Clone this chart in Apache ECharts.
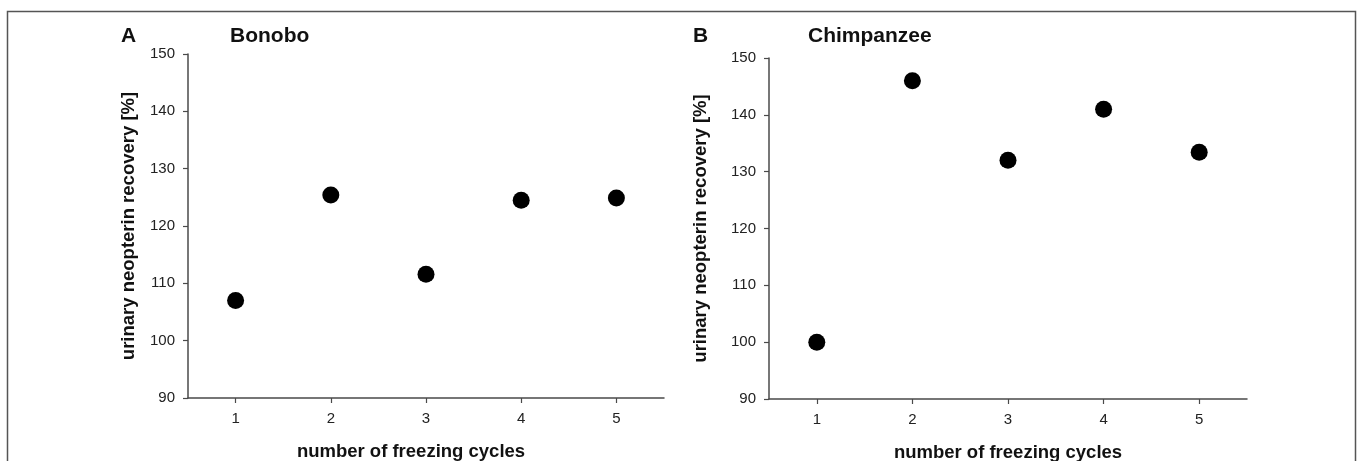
<!DOCTYPE html>
<html>
<head>
<meta charset="utf-8">
<script src="https://cdn.jsdelivr.net/npm/echarts@6/dist/echarts.min.js"></script>
<style>
html,body{margin:0;padding:0;background:#fff;}
#c{width:1357px;height:461px;}
</style>
</head>
<body>
<div id="c"></div>
<script>
const cycles = [1, 2, 3, 4, 5];
const bonoboRecovery = [107.0, 125.4, 111.6, 124.5, 124.9];
const chimpRecovery = [100.0, 146.0, 132.0, 141.0, 133.4];
const yTicks = [90, 100, 110, 120, 130, 140, 150];
const panelLetters = ['A', 'B'];
const panelTitles = ['Bonobo', 'Chimpanzee'];
const xName = 'number of freezing cycles';
const yName = 'urinary neopterin recovery [%]';

const FONT = '"Liberation Sans", Arial, sans-serif';
const chart = echarts.init(document.getElementById('c'), null, {renderer: 'canvas'});

function pts(vals) { return cycles.map((c, i) => [c, vals[i]]); }

const axisLine = {show: true, onZero: false, lineStyle: {color: '#4a4a4a', width: 1.5}};
const tickStyle = {show: true, inside: false, length: 5, lineStyle: {color: '#4a4a4a', width: 1.2}};
const labelStyle = {color: '#222', fontSize: 15, fontFamily: FONT};

function xAxis(idx, pad, gap) {
  return {
    type: 'value', gridIndex: idx, min: 0.5, max: 5.5,
    splitLine: {show: false}, axisLine,
    axisLabel: Object.assign({margin: 13, customValues: cycles}, labelStyle),
    axisTick: Object.assign({customValues: cycles}, tickStyle),
    name: xName, nameLocation: 'middle', nameGap: gap,
    nameTextStyle: {color: '#111', fontSize: 18.5, fontWeight: 'bold', fontFamily: FONT, padding: pad}
  };
}
function yAxis(idx, gap) {
  return {
    type: 'value', gridIndex: idx, min: yTicks[0], max: yTicks[yTicks.length - 1], interval: 10,
    splitLine: {show: false}, axisLine, axisTick: tickStyle,
    axisLabel: Object.assign({margin: 13}, labelStyle),
    name: yName, nameLocation: 'middle', nameGap: gap, nameRotate: 90,
    nameTextStyle: {color: '#111', fontSize: 18.5, fontWeight: 'bold', fontFamily: FONT}
  };
}

const titleBase = {padding: 0, textStyle: {color: '#111', fontSize: 21, fontWeight: 'bold', fontFamily: FONT}};

chart.setOption({
  animation: false,
  backgroundColor: '#fff',
  title: [
    Object.assign({text: panelLetters[0], left: 121, top: 26}, titleBase),
    Object.assign({text: panelTitles[0], left: 230, top: 26}, titleBase),
    Object.assign({text: panelLetters[1], left: 693, top: 26}, titleBase),
    Object.assign({text: panelTitles[1], left: 808, top: 26}, titleBase)
  ],
  grid: [
    {left: 188, width: 476, top: 54, height: 344, containLabel: false, outerBoundsMode: 'none'},
    {left: 769, width: 478, top: 58, height: 341, containLabel: false, outerBoundsMode: 'none'}
  ],
  xAxis: [xAxis(0, [0, 30, 0, 0], 44), xAxis(1, [0, 0, 0, 0], 44)],
  yAxis: [yAxis(0, 50), yAxis(1, 59)],
  series: [
    {type: 'scatter', xAxisIndex: 0, yAxisIndex: 0, data: pts(bonoboRecovery),
     symbol: 'circle', symbolSize: 17, itemStyle: {color: '#000', opacity: 1}},
    {type: 'scatter', xAxisIndex: 1, yAxisIndex: 1, data: pts(chimpRecovery),
     symbol: 'circle', symbolSize: 17, itemStyle: {color: '#000', opacity: 1}}
  ],
  graphic: [
    {type: 'polyline', silent: true, shape: {points: [[7.5, 470], [7.5, 11.5], [1355.5, 11.5], [1355.5, 470]]},
     style: {stroke: '#555', lineWidth: 1.5, fill: null}}
  ]
});
</script>
</body>
</html>
